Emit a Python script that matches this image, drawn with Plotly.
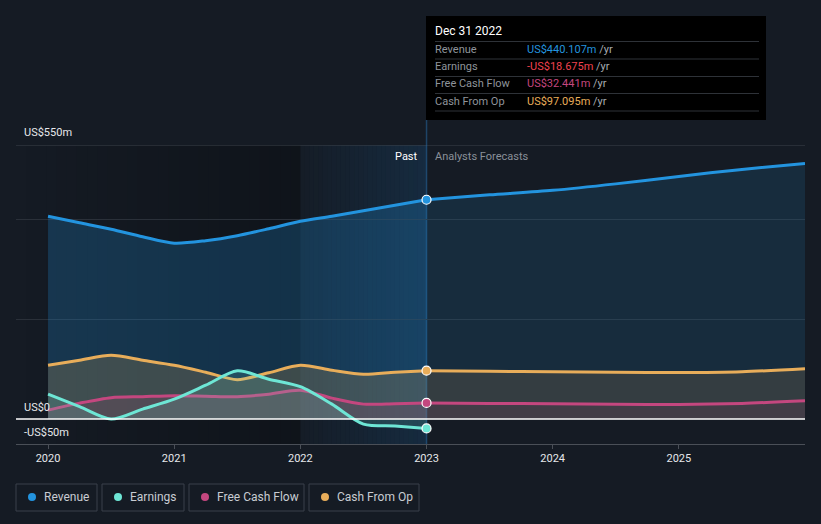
import plotly.graph_objects as go

# ---------------- data (US$ m) ----------------
past_x = [2020.0, 2020.25, 2020.5, 2020.75, 2021.0, 2021.25, 2021.5, 2021.75, 2022.0, 2022.25, 2022.5, 2022.75, 2023.0]
revenue_past = [407, 394, 381, 366, 353, 358, 368, 382, 397, 407, 418, 429, 440.107]
earnings_past = [50, 25, 0, 20, 40, 68, 97, 80, 65, 30, -10, -14, -18.675]
fcf_past = [18, 32, 43, 45, 47, 46, 45, 50, 58, 42, 30, 31, 32.441]
cfo_past = [108, 118, 128, 118, 108, 94, 79, 93, 108, 98, 90, 94, 97.095]

fc_x = [2023.0, 2023.5, 2024.0, 2024.5, 2025.0, 2025.5, 2026.0]
revenue_fc = [440.107, 450, 459, 472, 487, 501, 513]
fcf_fc = [32.441, 31.5, 31, 30, 29.3, 31.5, 36.7]
cfo_fc = [97.095, 96, 95, 94, 93.3, 95, 101]

year_ticks = [2020, 2021, 2022, 2023, 2024, 2025]
year_labels = ["2020", "2021", "2022", "2023", "2024", "2025"]

tooltip_date = "Dec 31 2022"
tooltip_rows = [("Revenue", "US$440.107m"), ("Earnings", "-US$18.675m"),
                ("Free Cash Flow", "US$32.441m"), ("Cash From Op", "US$97.095m")]
legend_names = ["Revenue", "Earnings", "Free Cash Flow", "Cash From Op"]

# ---------------- style ----------------
BG = "#151b24"
C_REV = "#2394df"
C_EARN = "#6ee6d5"
C_FCF = "#c4477f"
C_CFO = "#e8ad5a"
C_EARN_TXT = "#f0424f"
FONT = "Roboto"

W, H = 821, 524
L, R, T, B = 16, 16, 145, 80
PW, PH = W - L - R, H - T - B
X_MIN, X_MAX = 2019.746, 2026.0


def X(px):
    return (px - L) / PW


def Y(py):
    return (H - B - py) / PH


def rgba(hexc, a):
    h = hexc.lstrip("#")
    return "rgba(%d,%d,%d,%s)" % (int(h[0:2], 16), int(h[2:4], 16), int(h[4:6], 16), a)


fig = go.Figure()


def add(x, y, color, width, fill_a):
    fig.add_trace(go.Scatter(
        x=x, y=y, mode="lines", line=dict(color=color, width=width, shape="spline", smoothing=0.8),
        fill="tozeroy", fillcolor=rgba(color, fill_a), hoverinfo="skip", showlegend=False))


add(past_x, revenue_past, C_REV, 3, 0.24)
add(fc_x, revenue_fc, C_REV, 3, 0.14)
add(past_x, cfo_past, C_CFO, 3, 0.2)
add(fc_x, cfo_fc, C_CFO, 3, 0.14)
add(past_x, fcf_past, C_FCF, 3, 0.14)
add(fc_x, fcf_fc, C_FCF, 3, 0.1)
add(past_x, earnings_past, C_EARN, 3, 0.16)

last = len(past_x) - 1
for series, col in [(revenue_past, C_REV), (cfo_past, C_CFO), (fcf_past, C_FCF), (earnings_past, C_EARN)]:
    fig.add_trace(go.Scatter(x=[past_x[last]], y=[series[last]], mode="markers",
                             marker=dict(color=col, size=9, line=dict(color="white", width=1.2)),
                             hoverinfo="skip", showlegend=False))

shapes = []
n = 28
span = 2022 - X_MIN
for i in range(n):
    x0 = X_MIN + span * i / n
    x1 = X_MIN + span * (i + 1) / n
    a = 0.0 + 0.26 * i / (n - 1)
    shapes.append(dict(type="rect", xref="x", yref="paper", x0=x0, x1=x1, y0=0, y1=1,
                       fillcolor="rgba(0,0,0,%.3f)" % a, line=dict(width=0), layer="below"))
for i in range(n):
    x0 = 2022 + i / n
    x1 = 2022 + (i + 1) / n
    a = 0.02 + 0.14 * i / (n - 1)
    shapes.append(dict(type="rect", xref="x", yref="paper", x0=x0, x1=x1, y0=0, y1=1,
                       fillcolor="rgba(30,130,210,%.3f)" % a, line=dict(width=0), layer="below"))
shapes.append(dict(type="line", xref="paper", yref="y", x0=0, x1=1, y0=550, y1=550,
                   line=dict(color="#3d424b", width=1), layer="below"))
shapes.append(dict(type="line", xref="paper", yref="y", x0=0, x1=1, y0=0, y1=0,
                   line=dict(color="#ffffff", width=1.5), layer="above"))
shapes.append(dict(type="line", xref="x", yref="paper", x0=2023, x1=2023, y0=0, y1=Y(120),
                   line=dict(color="rgba(40,110,170,0.5)", width=1.5), layer="below"))

shapes.append(dict(type="rect", xref="paper", yref="paper", x0=X(426), x1=X(766), y0=Y(120), y1=Y(16),
                   fillcolor="#000000", line=dict(width=0), layer="above"))
for ly in [41.5, 59, 76.5, 93.5, 111]:
    shapes.append(dict(type="line", xref="paper", yref="paper", x0=X(435), x1=X(759), y0=Y(ly), y1=Y(ly),
                       line=dict(color="#2e3238", width=1), layer="above"))

annotations = []
annotations.append(dict(xref="paper", yref="paper", x=X(433), y=Y(31), text=tooltip_date, showarrow=False,
                        xanchor="left", yanchor="middle", font=dict(family=FONT, size=12, color="#ffffff")))
val_colors = [C_REV, C_EARN_TXT, C_FCF, C_CFO]
for i, ((lab, val), col) in enumerate(zip(tooltip_rows, val_colors)):
    yy = [49.5, 66.5, 84, 101][i]
    annotations.append(dict(xref="paper", yref="paper", x=X(433), y=Y(yy), text=lab, showarrow=False,
                            xanchor="left", yanchor="middle", font=dict(family=FONT, size=11, color="#8f949b")))
    annotations.append(dict(xref="paper", yref="paper", x=X(525), y=Y(yy),
                            text="<span style='color:%s'>%s</span> /yr" % (col, val), showarrow=False,
                            xanchor="left", yanchor="middle", font=dict(family=FONT, size=11, color="#a8acb2")))

for txt, py in [("US$550m", 132), ("US$0", 407), ("-US$50m", 432)]:
    annotations.append(dict(xref="paper", yref="paper", x=X(22), y=Y(py), text=txt, showarrow=False,
                            xanchor="left", yanchor="middle", font=dict(family=FONT, size=11, color="#e6e8eb")))
annotations.append(dict(xref="paper", yref="paper", x=X(420), y=Y(156), text="Past", showarrow=False,
                        xanchor="right", yanchor="middle", font=dict(family=FONT, size=11, color="#ffffff")))
annotations.append(dict(xref="paper", yref="paper", x=X(433), y=Y(156), text="Analysts Forecasts",
                        showarrow=False, xanchor="left", yanchor="middle",
                        font=dict(family=FONT, size=11, color="#8a9099")))

boxes = [(16, 97), (102, 184), (189, 304), (309, 419)]
dots = [32, 118, 205, 325]
for (bx0, bx1), dx, name, col in zip(boxes, dots, legend_names, [C_REV, C_EARN, C_FCF, C_CFO]):
    shapes.append(dict(type="rect", xref="paper", yref="paper", x0=X(bx0), x1=X(bx1), y0=Y(511), y1=Y(484),
                       fillcolor="rgba(0,0,0,0)", line=dict(color="#3b414b", width=1), layer="above"))
    shapes.append(dict(type="circle", xref="paper", yref="paper", x0=X(dx - 4), x1=X(dx + 4),
                       y0=Y(501), y1=Y(493), fillcolor=col, line=dict(width=0), layer="above"))
    annotations.append(dict(xref="paper", yref="paper", x=X(dx + 10), y=Y(496.5), text=name, showarrow=False,
                            xanchor="left", yanchor="middle", font=dict(family=FONT, size=12, color="#c8ccd2")))

fig.update_layout(
    width=W, height=H, paper_bgcolor=BG, plot_bgcolor=BG,
    margin=dict(l=L, r=R, t=T, b=B),
    showlegend=False, shapes=shapes, annotations=annotations,
    font=dict(family=FONT, color="#d0d4da"),
    xaxis=dict(range=[X_MIN, X_MAX], tickvals=year_ticks, ticktext=year_labels, showgrid=False,
               zeroline=False, showline=True, linecolor="#4a4f57", linewidth=1, ticks="outside",
               ticklen=4, tickcolor="#4a4f57", tickfont=dict(family=FONT, size=11, color="#e6e8eb"),
               fixedrange=True),
    yaxis=dict(range=[-50, 550], tickvals=[200, 400], showticklabels=False, showgrid=True,
               gridcolor="#2a3039", gridwidth=1, zeroline=False, showline=False, fixedrange=True),
)

fig.write_html("out.html", config={"displayModeBar": False},
               post_script="document.body.style.margin='0px';document.body.style.background='%s';" % BG)
